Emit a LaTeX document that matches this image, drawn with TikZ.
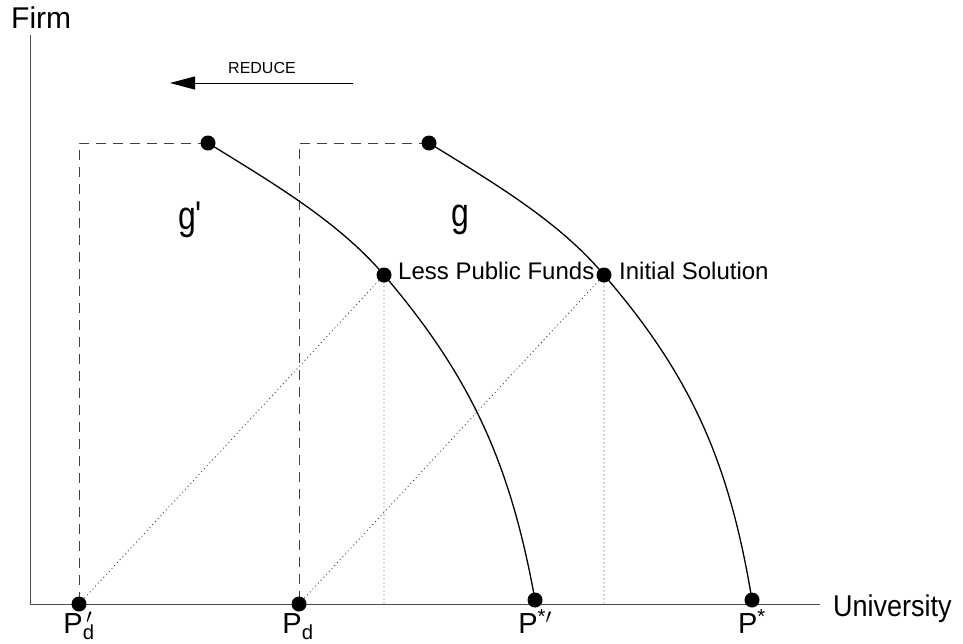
\documentclass[tikz,border=0pt]{standalone}
\usepackage{fontspec}
\setmainfont{Liberation Sans}
\usepackage{tikz}
\usetikzlibrary{arrows.meta, positioning}

\begin{document}
\begin{tikzpicture}[x=1pt, y=-1pt,
  dot/.style={circle, fill=black, inner sep=0pt, minimum size=15pt},
  axis/.style={draw=black!70, line width=0.9pt},
  guide/.style={draw=black!75, line width=0.9pt, dash pattern=on 10pt off 7pt},
  dotline/.style={draw=black!80, line width=0.8pt, dash pattern=on 1pt off 3pt},
  curve/.style={line width=1.3pt},
  lab/.style={inner sep=0pt, font=\fontsize{24}{26}\selectfont},
  plab/.style={inner sep=0pt, anchor=base, font=\fontsize{29}{31}\selectfont},
  glab/.style={inner sep=0pt, anchor=base, xscale=0.8, font=\fontsize{40}{42}\selectfont}]
  \useasboundingbox (0,0) rectangle (963,643);
  % points
  \coordinate (o) at (30,604);
  \coordinate (ytop) at (30,35);
  \coordinate (xend) at (820,604);
  \coordinate (top1) at (208,143);
  \coordinate (top0) at (429,143);
  \coordinate (less) at (384,275);
  \coordinate (init) at (604,275);
  \coordinate (pd1) at (79,604);
  \coordinate (pd0) at (299,604);
  \coordinate (ps1) at (535,600);
  \coordinate (ps0) at (752,600);
  \coordinate (c1) at (pd1 |- top1);
  \coordinate (c0) at (pd0 |- top0);
  % axes
  \draw[axis] (ytop) -- (o) -- (xend);
  \node[anchor=base west, inner sep=0pt, font=\fontsize{30}{32}\selectfont] (firm) at (11,28) {Firm};
  \node[anchor=base west, inner sep=0pt, xscale=0.9, font=\fontsize{30}{32}\selectfont] (univ) at (833,616) {University};
  % reduce arrow
  \coordinate (rstart) at (353,83);
  \coordinate (rend) at (170,83);
  \draw[line width=0.9pt, -{Triangle[length=25pt, width=13pt]}] (rstart) -- (rend);
  \node[anchor=base, inner sep=0pt, font=\fontsize{16}{18}\selectfont] (reduce) at (262,73) {REDUCE};
  % dashed guides
  \draw[guide] (top1) -- (c1) -- (pd1);
  \draw[guide] (top0) -- (c0) -- (pd0);
  % dotted lines
  \draw[dotline] (pd1) -- (less) -- (less |- o);
  \draw[dotline] (pd0) -- (init) -- (init |- o);
  % frontiers
  \draw[curve] (top1) .. controls (271,182) and (338,221) .. (less)
    .. controls (473,379) and (511,467) .. (ps1);
  \draw[curve] (top0) .. controls (492,182) and (559,221) .. (init)
    .. controls (694,379) and (730,467) .. (ps0);
  \foreach \p in {top1, top0, less, init, pd1, pd0, ps1, ps0}
    \node[dot] (d\p) at (\p) {};
  % labels
  \node[glab] (gp) at (190,229) {g\textquotesingle};
  \node[glab] (g) at (460,226) {g};
  \node[lab, anchor=west] (lesslab) at (398,271) {Less Public Funds};
  \node[lab, anchor=west] (initlab) at (619,271) {Initial Solution};
  \node[plab] (lpd1) at (79,633) {P\rlap{\textsuperscript{\,$\prime$}}\textsubscript{d}};
  \node[plab] (lpd0) at (298,633) {P\textsubscript{d}};
  \node[plab] (lps1) at (535,633) {P\textsuperscript{*$\prime$}};
  \node[plab] (lps0) at (752,633) {P\textsuperscript{*}};
\end{tikzpicture}
\end{document}
